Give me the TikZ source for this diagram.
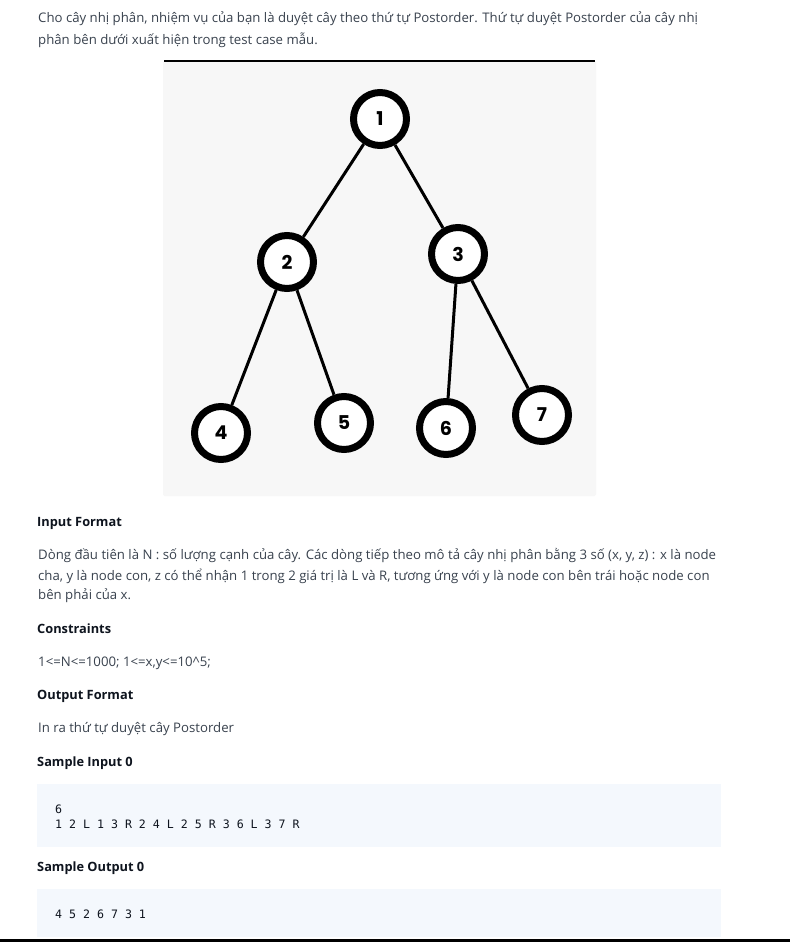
\documentclass[tikz,border=0pt]{standalone}
\usepackage{fontspec}
\setmainfont{Open Sans}
\newfontfamily\numfont{Poppins}
\newfontfamily\codefont{DejaVu Sans Mono}
\usetikzlibrary{positioning}
\definecolor{bodytext}{HTML}{39424E}
\definecolor{headtext}{HTML}{0E141E}
\definecolor{panelgray}{HTML}{F7F7F7}
\definecolor{codebg}{HTML}{F4F8FD}
\tikzset{
  body/.style={anchor=west, inner sep=0pt, text=bodytext, font=\fontsize{13.2}{16}\selectfont},
  heading/.style={anchor=west, inner sep=0pt, text=headtext, font=\fontsize{12.8}{16}\selectfont\bfseries},
  code/.style={anchor=west, inner sep=0pt, text=headtext, font=\codefont\fontsize{11.6}{14}\selectfont},
  treenode/.style={circle, draw=black, line width=7pt, fill=white, minimum size=53pt, inner sep=0pt, font=\numfont\bfseries\fontsize{19}{19}\selectfont},
  edge/.style={line width=3pt}
}

\begin{document}
\begin{tikzpicture}[x=1pt,y=-1pt]
\useasboundingbox (0,0) rectangle (790,942);
\fill[white] (0,0) rectangle (790,942);
% intro text
\node[body] (intro1) at (38,19) {Cho cây nhị phân, nhiệm vụ của bạn là duyệt cây theo thứ tự Postorder. Thứ tự duyệt Postorder của cây nhị};
\node[body] (intro2) at (38,40) {phân bên dưới xuất hiện trong test case mẫu.};
% tree panel
\fill[panelgray, rounded corners=2pt] (163,61) rectangle (596,496);
\draw[line width=1.2pt] (164,61) -- (595,61);
\node[treenode] (n1) at (380,119) {1};
\node[treenode] (n2) at (287,262) {2};
\node[treenode] (n3) at (458,254) {3};
\node[treenode] (n4) at (221,433) {4};
\node[treenode] (n5) at (344,423) {5};
\node[treenode] (n6) at (446,428) {6};
\node[treenode] (n7) at (542,415) {7};
\foreach \a/\b in {n1/n2,n1/n3,n2/n4,n2/n5,n3/n6,n3/n7}
\draw[edge] (\a) -- (\b);
% sections
\node[heading] (inhead) at (37,523) {Input Format};
\node[body] (in1) at (38,556) {Dòng đầu tiên là N : số lượng cạnh của cây. Các dòng tiếp theo mô tả cây nhị phân bằng 3 số (x, y, z) : x là node};
\node[body] (in2) at (38,576) {cha, y là node con, z có thể nhận 1 trong 2 giá trị là L và R, tương ứng với y là node con bên trái hoặc node con};
\node[body] (in3) at (38,596) {bên phải của x.};
\node[heading] (conhead) at (37,629) {Constraints};
\node[body] (con1) at (38,663) {1<=N<=1000; 1<=x,y<=10\^{}5;};
\node[heading] (outhead) at (37,696) {Output Format};
\node[body] (out1) at (38,729) {In ra thứ tự duyệt cây Postorder};
\node[heading] (sinhead) at (37,763) {Sample Input 0};
\fill[codebg] (37,784) rectangle (721,847);
\node[code] (sin1) at (55,809) {6};
\node[code] (sin2) at (55,824) {1 2 L 1 3 R 2 4 L 2 5 R 3 6 L 3 7 R};
\node[heading] (southead) at (37,868) {Sample Output 0};
\fill[codebg] (37,889) rectangle (721,937);
\node[code] (sout1) at (55,914) {4 5 2 6 7 3 1};
\fill[black] (0,939) rectangle (790,942);
\end{tikzpicture}
\end{document}
